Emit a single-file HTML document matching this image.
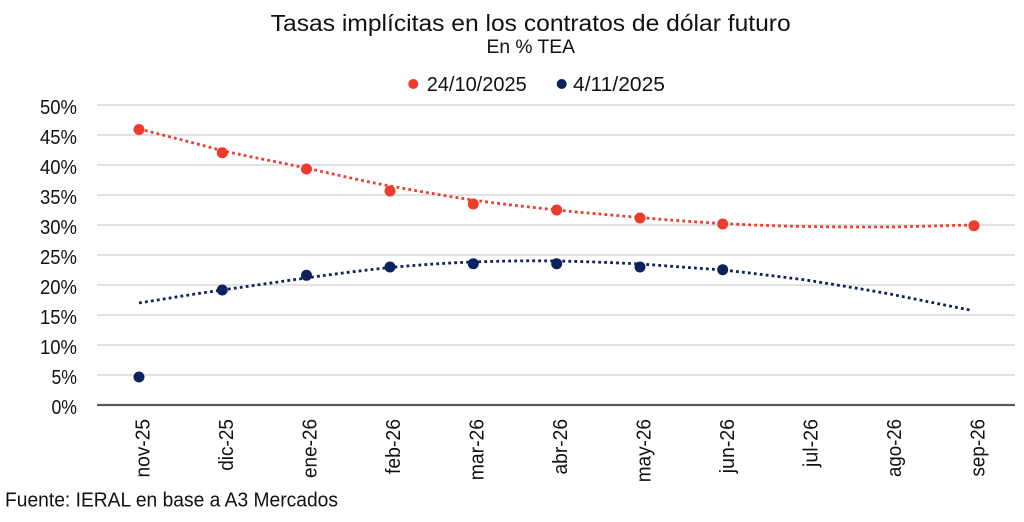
<!DOCTYPE html>
<html>
<head>
<meta charset="utf-8">
<style>
  html, body { margin: 0; padding: 0; background: #ffffff; }
  svg { display: block; }
  text { font-family: "Liberation Sans", "DejaVu Sans", sans-serif; fill: #111; }
</style>
</head>
<body>
<svg width="1024" height="522" viewBox="0 0 1024 522" xmlns="http://www.w3.org/2000/svg">
  <rect x="0" y="0" width="1024" height="522" fill="#ffffff"/>

  <!-- Title -->
  <text x="270.7" y="31" font-size="23.5" textLength="520" lengthAdjust="spacingAndGlyphs">Tasas implícitas en los contratos de dólar futuro</text>
  <text x="486.5" y="53" font-size="19.5" textLength="88.5" lengthAdjust="spacingAndGlyphs">En % TEA</text>

  <!-- Legend -->
  <circle cx="413.3" cy="84" r="5" fill="#EE3B2B"/>
  <text x="426.7" y="91" font-size="20" textLength="100" lengthAdjust="spacingAndGlyphs">24/10/2025</text>
  <circle cx="561.7" cy="84" r="5" fill="#0B2160"/>
  <text x="573" y="91" font-size="20" textLength="92" lengthAdjust="spacingAndGlyphs">4/11/2025</text>

  <!-- Gridlines -->
  <g stroke="#D9D9D9" stroke-width="1.5">
    <line x1="97" y1="105" x2="1015" y2="105"/>
    <line x1="97" y1="135" x2="1015" y2="135"/>
    <line x1="97" y1="165" x2="1015" y2="165"/>
    <line x1="97" y1="195" x2="1015" y2="195"/>
    <line x1="97" y1="225" x2="1015" y2="225"/>
    <line x1="97" y1="255" x2="1015" y2="255"/>
    <line x1="97" y1="285" x2="1015" y2="285"/>
    <line x1="97" y1="315" x2="1015" y2="315"/>
    <line x1="97" y1="345" x2="1015" y2="345"/>
    <line x1="97" y1="375" x2="1015" y2="375"/>
  </g>
  <line x1="97" y1="405" x2="1015" y2="405" stroke="#595959" stroke-width="2.2"/>

  <!-- Y labels -->
  <g font-size="20">
    <text x="40" y="114" textLength="37" lengthAdjust="spacingAndGlyphs">50%</text>
    <text x="40" y="144" textLength="37" lengthAdjust="spacingAndGlyphs">45%</text>
    <text x="40" y="174" textLength="37" lengthAdjust="spacingAndGlyphs">40%</text>
    <text x="40" y="204" textLength="37" lengthAdjust="spacingAndGlyphs">35%</text>
    <text x="40" y="234" textLength="37" lengthAdjust="spacingAndGlyphs">30%</text>
    <text x="40" y="264" textLength="37" lengthAdjust="spacingAndGlyphs">25%</text>
    <text x="40" y="294" textLength="37" lengthAdjust="spacingAndGlyphs">20%</text>
    <text x="40" y="324" textLength="37" lengthAdjust="spacingAndGlyphs">15%</text>
    <text x="40" y="354" textLength="37" lengthAdjust="spacingAndGlyphs">10%</text>
    <text x="51.5" y="384" textLength="25.5" lengthAdjust="spacingAndGlyphs">5%</text>
    <text x="51.5" y="414" textLength="25.5" lengthAdjust="spacingAndGlyphs">0%</text>
  </g>

  <!-- X labels (rotated) -->
  <g font-size="20" text-anchor="end">
    <text transform="translate(149.7,419) rotate(-90)" x="0" y="0" textLength="58.5" lengthAdjust="spacingAndGlyphs">nov-25</text>
    <text transform="translate(233.2,419) rotate(-90)" x="0" y="0" textLength="51.8" lengthAdjust="spacingAndGlyphs">dic-25</text>
    <text transform="translate(316.6,419) rotate(-90)" x="0" y="0" textLength="59" lengthAdjust="spacingAndGlyphs">ene-26</text>
    <text transform="translate(400.1,419) rotate(-90)" x="0" y="0" textLength="55" lengthAdjust="spacingAndGlyphs">feb-26</text>
    <text transform="translate(483.5,419) rotate(-90)" x="0" y="0" textLength="61.2" lengthAdjust="spacingAndGlyphs">mar-26</text>
    <text transform="translate(567,419) rotate(-90)" x="0" y="0" textLength="55.5" lengthAdjust="spacingAndGlyphs">abr-26</text>
    <text transform="translate(650.5,419) rotate(-90)" x="0" y="0" textLength="63.3" lengthAdjust="spacingAndGlyphs">may-26</text>
    <text transform="translate(733.9,419) rotate(-90)" x="0" y="0" textLength="54.2" lengthAdjust="spacingAndGlyphs">jun-26</text>
    <text transform="translate(817.4,419) rotate(-90)" x="0" y="0" textLength="48" lengthAdjust="spacingAndGlyphs">jul-26</text>
    <text transform="translate(900.8,419) rotate(-90)" x="0" y="0" textLength="58" lengthAdjust="spacingAndGlyphs">ago-26</text>
    <text transform="translate(984.3,419) rotate(-90)" x="0" y="0" textLength="57.5" lengthAdjust="spacingAndGlyphs">sep-26</text>
  </g>

  <!-- Trend lines -->
  <path d="M139,129 C167,136 194,143 222,150.5 C250,157 278,162 306,168 C334,174 362,181 390,186 C418,191 445,196 473,200 C501,204 529,207 557,210 C585,213 612,215 640,217.5 C668,220 695,222 723,223.5 C751,225 778,226 806,226.5 C834,227 862,227 890,227 C918,226.5 946,225.5 974,225"
        fill="none" stroke="#EE3B2B" stroke-width="2.8" stroke-dasharray="2.8 3.2"/>
  <path d="M139,303 C167,298.5 194,294 222,290 C250,286 278,282 306,278 C334,274 362,270.5 390,267.5 C418,265 445,263 473,262 C501,261 529,260.5 557,261 C585,261.5 612,262.5 640,264 C668,266 695,268 723,270 C751,273 778,276.5 806,280 C834,284.5 862,289 890,294 C917,299.5 945,305 972,310.5"
        fill="none" stroke="#0B2160" stroke-width="2.8" stroke-dasharray="2.8 3.2"/>

  <!-- Markers: 24/10/2025 -->
  <g fill="#EE3B2B">
    <circle cx="139" cy="129.5" r="5.5"/>
    <circle cx="222.3" cy="152.7" r="5.5"/>
    <circle cx="306.5" cy="169" r="5.5"/>
    <circle cx="390" cy="191" r="5.5"/>
    <circle cx="473.3" cy="204" r="5.5"/>
    <circle cx="556.7" cy="210" r="5.5"/>
    <circle cx="640" cy="218" r="5.5"/>
    <circle cx="722.7" cy="224" r="5.5"/>
    <circle cx="974" cy="225.7" r="5.5"/>
  </g>
  <!-- Markers: 4/11/2025 -->
  <g fill="#0B2160">
    <circle cx="139" cy="377" r="5.5"/>
    <circle cx="222.3" cy="290" r="5.5"/>
    <circle cx="306.5" cy="275.3" r="5.5"/>
    <circle cx="390" cy="267" r="5.5"/>
    <circle cx="473.3" cy="263.7" r="5.5"/>
    <circle cx="556.7" cy="263.7" r="5.5"/>
    <circle cx="640" cy="267" r="5.5"/>
    <circle cx="722.7" cy="269.7" r="5.5"/>
  </g>

  <!-- Footer -->
  <text x="5" y="506.5" font-size="20" textLength="333" lengthAdjust="spacingAndGlyphs">Fuente: IERAL en base a A3 Mercados</text>
</svg>
</body>
</html>
